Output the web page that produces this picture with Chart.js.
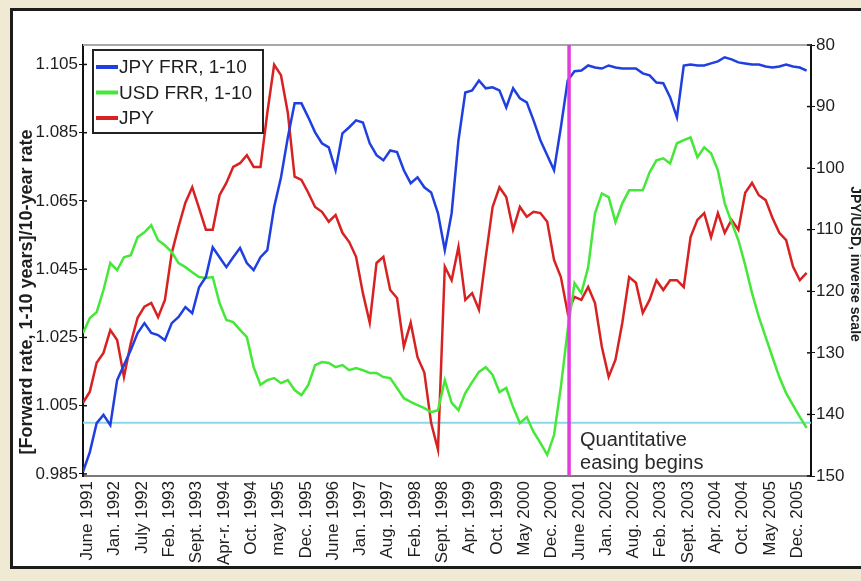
<!DOCTYPE html>
<html lang="en">
<head>
<meta charset="UTF-8">
<title>JPY and USD forward rate ratios</title>
<script src="https://cdn.jsdelivr.net/npm/chart.js@4"></script>
<style>
    html, body {
        margin: 0;
        padding: 0;
        background: #f0e9d3;
        overflow: hidden;
    }
    canvas { display: block; }
</style>
</head>
<body>
<canvas id="qeChart" width="861" height="581"></canvas>
<script>
// date labels along the bottom, as printed
const dateLabels = ['June 1991', 'Jan. 1992', 'July 1992', 'Feb. 1993', 'Sept. 1993', 'Apr-r. 1994',
    'Oct. 1994', 'may 1995', 'Dec. 1995', 'June 1996', 'Jan. 1997', 'Aug. 1997', 'Feb. 1998',
    'Sept. 1998', 'Apr. 1999', 'Oct. 1999', 'May 2000', 'Dec. 2000', 'June 2001', 'Jan. 2002',
    'Aug. 2002', 'Feb. 2003', 'Sept. 2003', 'Apr. 2004', 'Oct. 2004', 'May 2005', 'Dec. 2005'];
const leftTicks = [0.985, 1.005, 1.025, 1.045, 1.065, 1.085, 1.105];
const rightTicks = [80, 90, 100, 110, 120, 130, 140, 150];

// JPY forward rate ratio, 1-10
const jpyFrr = [
    0.9856, 0.9914, 0.9999, 1.0023, 0.9993, 1.0125, 1.0169, 1.0213, 1.0263, 1.0292,
    1.0263, 1.0257, 1.0242, 1.0292, 1.0310, 1.0339, 1.0321, 1.0397, 1.0427, 1.0514,
    1.0485, 1.0456, 1.0485, 1.0512, 1.0468, 1.0447, 1.0485, 1.0506, 1.0632, 1.0719,
    1.0836, 1.0936, 1.0936, 1.0895, 1.0851, 1.0819, 1.0807, 1.0740, 1.0848, 1.0866,
    1.0886, 1.0880, 1.0819, 1.0784, 1.0769, 1.0798, 1.0793, 1.0740, 1.0702, 1.0719,
    1.0690, 1.0675, 1.0614, 1.0506, 1.0614, 1.0828, 1.0968, 1.0974, 1.1003, 1.0980,
    1.0983, 1.0974, 1.0924, 1.0980, 1.0951, 1.0939, 1.0886, 1.0828, 1.0784, 1.0740,
    1.0866, 1.1003, 1.1030, 1.1032, 1.1047, 1.1041, 1.1038, 1.1047, 1.1041, 1.1038,
    1.1038, 1.1038, 1.1024, 1.1018, 1.0997, 1.0995, 1.0954, 1.0895, 1.1047, 1.1050,
    1.1047, 1.1047, 1.1053, 1.1059, 1.1071, 1.1065, 1.1056, 1.1053, 1.1050, 1.1050,
    1.1044, 1.1041, 1.1044, 1.1050, 1.1044, 1.1041, 1.1032];

// USD forward rate ratio, 1-10
const usdFrr = [
    1.0263, 1.0307, 1.0324, 1.0389, 1.0468, 1.0447, 1.0485, 1.0491, 1.0544, 1.0558,
    1.0579, 1.0535, 1.0520, 1.0500, 1.0468, 1.0456, 1.0441, 1.0427, 1.0424, 1.0427,
    1.0351, 1.0301, 1.0295, 1.0272, 1.0251, 1.0163, 1.0111, 1.0125, 1.0131, 1.0116,
    1.0125, 1.0096, 1.0081, 1.0111, 1.0169, 1.0178, 1.0175, 1.0163, 1.0169, 1.0154,
    1.0160, 1.0154, 1.0146, 1.0146, 1.0134, 1.0131, 1.0102, 1.0072, 1.0061, 1.0052,
    1.0043, 1.0031, 1.0037, 1.0125, 1.0058, 1.0037, 1.0087, 1.0119, 1.0149, 1.0163,
    1.0140, 1.0090, 1.0102, 1.0046, 0.9999, 1.0017, 0.9973, 0.9941, 0.9906, 0.9964,
    1.0105, 1.0272, 1.0409, 1.0380, 1.0456, 1.0614, 1.0672, 1.0661, 1.0588, 1.0643,
    1.0681, 1.0681, 1.0681, 1.0734, 1.0769, 1.0775, 1.0760, 1.0819, 1.0828, 1.0836,
    1.0778, 1.0807, 1.0790, 1.0740, 1.0643, 1.0588, 1.0535, 1.0462, 1.0380, 1.0310,
    1.0251, 1.0192, 1.0134, 1.0087, 1.0052, 1.0017, 0.9985];

// JPY per USD (right axis, inverse scale)
const jpyUsd = [
    138.1, 136.3, 131.6, 130.0, 126.3, 127.9, 133.9, 128.4, 124.3, 122.5,
    121.9, 124.2, 121.4, 113.8, 109.5, 105.6, 103.1, 106.5, 110.0, 110.0,
    104.4, 102.4, 99.8, 99.2, 97.9, 99.8, 99.8, 91.0, 83.2, 84.9,
    91.0, 101.4, 101.9, 104.0, 106.3, 107.1, 108.7, 107.6, 110.5, 112.0,
    114.4, 120.3, 125.1, 115.4, 114.4, 119.8, 121.1, 129.0, 125.1, 130.7,
    133.2, 141.4, 145.7, 116.0, 118.2, 112.8, 121.4, 120.3, 123.0, 114.4,
    106.3, 103.1, 104.7, 110.0, 106.3, 107.9, 107.1, 107.3, 108.7, 114.9,
    117.7, 123.5, 120.9, 121.4, 119.3, 121.9, 129.0, 133.9, 131.1, 125.1,
    117.7, 118.6, 123.5, 121.4, 118.2, 119.8, 118.2, 118.2, 119.3, 111.2,
    108.4, 107.3, 111.2, 107.3, 110.5, 108.4, 110.0, 104.0, 102.4, 104.4,
    105.2, 108.1, 110.5, 111.7, 116.0, 118.2, 117.0];

const parityLevel = 1.0;      // cyan reference line
const qeStart = 17.64;        // position on the date axis, about March 2001
const qeNote = ['Quantitative', 'easing begins'];

// samples are a quarter of a label step apart, first one at the left edge
const firstX = -0.16, stepX = 0.25;
const toPoints = arr => arr.map((v, i) => ({ x: firstX + i * stepX, y: v }));

const FONT = 'Arial, "Liberation Sans", sans-serif';

// beige page, white panel with dark border
const backdrop = {
    id: 'backdrop',
    beforeDraw(chart) {
        const c = chart.ctx;
        c.save();
        c.fillStyle = '#f0e9d3';
        c.fillRect(0, 0, chart.width, chart.height);
        c.fillStyle = '#ffffff';
        c.fillRect(11, 9, chart.width, 559);
        c.strokeStyle = '#1c1c1c';
        c.lineWidth = 3;
        c.strokeRect(11.5, 9.5, chart.width + 10, 558);
        c.restore();
    }
};

// cyan parity line, under the series
const parityLine = {
    id: 'parityLine',
    beforeDatasetsDraw(chart) {
        const { ctx: c, chartArea: a, scales } = chart;
        const y = scales.y.getPixelForValue(parityLevel);
        c.save();
        c.strokeStyle = '#86d9e6';
        c.lineWidth = 2;
        c.beginPath();
        c.moveTo(a.left, y);
        c.lineTo(a.right, y);
        c.stroke();
        c.restore();
    }
};

// magenta QE line, note, legend, titles, inner ticks
const overlay = {
    id: 'overlay',
    afterDraw(chart) {
        const { ctx: c, chartArea: a, scales } = chart;
        c.save();

        // top frame line
        c.strokeStyle = '#a8a8a8';
        c.lineWidth = 2;
        c.beginPath();
        c.moveTo(a.left, a.top);
        c.lineTo(a.right, a.top);
        c.stroke();

        // inner tick marks ("+" look)
        c.strokeStyle = '#111';
        c.lineWidth = 1.5;
        leftTicks.forEach(t => {
            const y = scales.y.getPixelForValue(t);
            c.beginPath(); c.moveTo(a.left, y); c.lineTo(a.left + 4, y); c.stroke();
        });
        rightTicks.forEach(t => {
            const y = scales.y1.getPixelForValue(t);
            c.beginPath(); c.moveTo(a.right - 4, y); c.lineTo(a.right, y); c.stroke();
        });

        // quantitative easing marker
        const qx = scales.x.getPixelForValue(qeStart);
        c.strokeStyle = '#e23ddc';
        c.lineWidth = 3.5;
        c.beginPath();
        c.moveTo(qx, a.top);
        c.lineTo(qx, a.bottom);
        c.stroke();

        c.fillStyle = '#2a2a2a';
        c.font = '20px ' + FONT;
        c.textAlign = 'left';
        c.textBaseline = 'alphabetic';
        c.fillText(qeNote[0], qx + 11, 446);
        c.fillText(qeNote[1], qx + 11, 469);

        // legend box
        const lx = 93, ly = 50, lw = 170, lh = 83;
        c.fillStyle = '#ffffff';
        c.fillRect(lx, ly, lw, lh);
        c.strokeStyle = '#222';
        c.lineWidth = 2;
        c.strokeRect(lx, ly, lw, lh);
        c.font = '19px ' + FONT;
        c.textBaseline = 'middle';
        chart.data.datasets.forEach((ds, i) => {
            const y = ly + 17 + i * 25.5;
            c.strokeStyle = ds.borderColor;
            c.lineWidth = 4;
            c.beginPath();
            c.moveTo(lx + 3, y);
            c.lineTo(lx + 25, y);
            c.stroke();
            c.fillStyle = '#1e1e1e';
            c.fillText(ds.label, lx + 26, y + 1);
        });

        // axis titles
        c.fillStyle = '#1e1e1e';
        c.textAlign = 'center';
        c.textBaseline = 'alphabetic';
        c.font = 'bold 18px ' + FONT;
        c.save();
        c.translate(32, 292);
        c.rotate(-Math.PI / 2);
        c.fillText('[Forward rate, 1-10 years]/10-year rate', 0, 0);
        c.restore();
        c.font = 'bold 14px ' + FONT;
        c.save();
        c.translate(851, 264);
        c.rotate(Math.PI / 2);
        c.fillText('JPY/USD, inverse scale', 0, 0);
        c.restore();

        c.restore();
    }
};

const tickFont = { family: FONT, size: 17 };

new Chart(document.getElementById('qeChart'), {
    type: 'line',
    data: {
        datasets: [
            { label: 'JPY FRR, 1-10', data: toPoints(jpyFrr), borderColor: '#1f3fe0', yAxisID: 'y' },
            { label: 'USD FRR, 1-10', data: toPoints(usdFrr), borderColor: '#45e838', yAxisID: 'y' },
            { label: 'JPY', data: toPoints(jpyUsd), borderColor: '#d82222', yAxisID: 'y1' }
        ]
    },
    options: {
        responsive: false,
        animation: false,
        devicePixelRatio: 1,
        layout: { padding: { top: 45, left: 0, right: 0, bottom: 0 } },
        elements: {
            point: { radius: 0 },
            line: { borderWidth: 2.5, tension: 0 }
        },
        plugins: {
            legend: { display: false },
            tooltip: { enabled: false }
        },
        scales: {
            x: {
                type: 'linear',
                min: firstX,
                max: 26.5,
                afterBuildTicks: s => { s.ticks = dateLabels.map((_, i) => ({ value: i })); },
                afterFit: s => { s.height = 105; },
                ticks: {
                    autoSkip: false,
                    minRotation: 90,
                    maxRotation: 90,
                    padding: 5,
                    color: '#1e1e1e',
                    font: tickFont,
                    callback: v => dateLabels[v]
                },
                grid: { drawOnChartArea: false, drawTicks: false },
                border: { color: '#7a7a7a', width: 2 }
            },
            y: {
                position: 'left',
                min: 0.9844,
                max: 1.1107,
                afterBuildTicks: s => { s.ticks = leftTicks.map(v => ({ value: v })); },
                afterFit: s => { s.width = 83; },
                ticks: {
                    padding: 1,
                    color: '#1e1e1e',
                    font: tickFont,
                    callback: v => v.toFixed(3)
                },
                grid: { drawOnChartArea: false, tickLength: 4, color: '#111' },
                border: { color: '#111', width: 2 }
            },
            y1: {
                position: 'right',
                reverse: true,
                min: 80,
                max: 150,
                afterBuildTicks: s => { s.ticks = rightTicks.map(v => ({ value: v })); },
                afterFit: s => { s.width = 50; },
                ticks: {
                    padding: 1,
                    color: '#1e1e1e',
                    font: tickFont
                },
                grid: { drawOnChartArea: false, tickLength: 4, color: '#111' },
                border: { color: '#111', width: 2 }
            }
        }
    },
    plugins: [backdrop, parityLine, overlay]
});
</script>
</body>
</html>
